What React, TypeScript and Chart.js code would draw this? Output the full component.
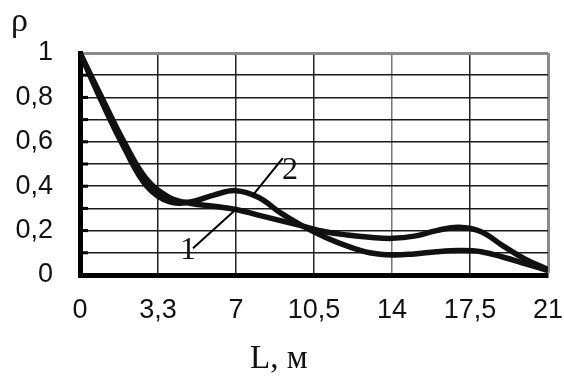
import { useEffect, useRef } from "react";
import { Chart, registerables } from "chart.js";
Chart.register(...registerables);

const xValues = [0, 1, 2, 3, 4, 5, 6, 7, 8, 9, 10, 11, 12, 13, 14, 15, 16, 17, 18, 19, 20, 21];
const curve1 = [1, 0.795, 0.595, 0.43, 0.35, 0.322, 0.31, 0.295, 0.27, 0.245, 0.22, 0.195, 0.18, 0.17, 0.165, 0.175, 0.2, 0.215, 0.195, 0.13, 0.07, 0.025];
const curve2 = [1, 0.775, 0.57, 0.4, 0.33, 0.33, 0.36, 0.38, 0.35, 0.28, 0.22, 0.17, 0.13, 0.1, 0.09, 0.095, 0.105, 0.11, 0.105, 0.08, 0.05, 0.02];

const xTickValues = [0, 3.5, 7, 10.5, 14, 17.5, 21];
const xTickLabels = ["0", "3,3", "7", "10,5", "14", "17,5", "21"];
const yTickValues = [0, 0.1, 0.2, 0.3, 0.4, 0.5, 0.6, 0.7, 0.8, 0.9, 1];
const yTickLabels = ["0", "", "0,2", "", "0,4", "", "0,6", "", "0,8", "", "1"];

const yAxisTitle = "ρ";
const xAxisTitle = "L, м";

const curveLabel1 = { text: "1", x: 4.85, y: 0.11, from: [5.07, 0.12], to: [7.04, 0.3] };
const curveLabel2 = { text: "2", x: 9.42, y: 0.47, from: [7.76, 0.36], to: [9.1, 0.527] };

const SANS = '"Liberation Sans", Arial, sans-serif';
const SERIF = '"Liberation Serif", "Times New Roman", serif';

const decorPlugin = {
  id: "decor",
  afterDatasetsDraw(chart: any) {
    const { ctx, chartArea, scales } = chart;
    const xs = scales.x;
    const ys = scales.y;
    ctx.save();
    ctx.strokeStyle = "#000";
    ctx.lineWidth = 3;
    for (const v of yTickValues) {
      if (v === 0 || v === 1) continue;
      const py = ys.getPixelForValue(v);
      ctx.beginPath();
      ctx.moveTo(chartArea.left, py);
      ctx.lineTo(chartArea.left + 8, py);
      ctx.stroke();
    }
    ctx.lineWidth = 2;
    for (const l of [curveLabel1, curveLabel2]) {
      ctx.beginPath();
      ctx.moveTo(xs.getPixelForValue(l.from[0]), ys.getPixelForValue(l.from[1]));
      ctx.lineTo(xs.getPixelForValue(l.to[0]), ys.getPixelForValue(l.to[1]));
      ctx.stroke();
    }
    ctx.fillStyle = "#111";
    ctx.font = `32px ${SERIF}`;
    ctx.textAlign = "center";
    ctx.textBaseline = "middle";
    for (const l of [curveLabel1, curveLabel2]) {
      ctx.fillText(l.text, xs.getPixelForValue(l.x), ys.getPixelForValue(l.y));
    }
    ctx.textAlign = "left";
    ctx.textBaseline = "alphabetic";
    ctx.font = `34px ${SERIF}`;
    ctx.fillText(yAxisTitle, 11, 31);
    ctx.font = `33px ${SERIF}`;
    ctx.fillText(xAxisTitle, 250, 368);
    ctx.restore();
  },
};

const zeroPad = (s: any) => {
  s.paddingLeft = 0;
  s.paddingRight = 0;
  s.paddingTop = 0;
  s.paddingBottom = 0;
};

export default function App() {
  const ref = useRef<HTMLCanvasElement | null>(null);
  useEffect(() => {
    if (!ref.current) return;
    const chart = new Chart(ref.current, {
      type: "line",
      data: {
        datasets: [
          {
            label: "1",
            data: xValues.map((x, i) => ({ x, y: curve1[i] })),
            borderColor: "#111",
            borderWidth: 5.5,
            pointRadius: 0,
            tension: 0.4,
            fill: false,
          },
          {
            label: "2",
            data: xValues.map((x, i) => ({ x, y: curve2[i] })),
            borderColor: "#111",
            borderWidth: 5.5,
            pointRadius: 0,
            tension: 0.4,
            fill: false,
          },
        ],
      },
      options: {
        animation: false,
        responsive: false,
        layout: { padding: { top: 53, right: 16, left: 0, bottom: 0 } },
        plugins: { legend: { display: false }, tooltip: { enabled: false }, title: { display: false } },
        scales: {
          x: {
            type: "linear",
            min: 0,
            max: 21,
            afterBuildTicks: (s: any) => {
              s.ticks = xTickValues.map((v) => ({ value: v }));
            },
            afterFit: (s: any) => {
              s.height = 103;
              zeroPad(s);
            },
            ticks: {
              autoSkip: false,
              maxRotation: 0,
              padding: 19,
              color: "#111",
              font: { family: SANS, size: 27 },
              callback: (_v: any, i: number) => xTickLabels[i],
            },
            grid: {
              drawTicks: false,
              color: (c: any) => (c.tick && c.tick.value === 21 ? "#8a8a8a" : c.tick && c.tick.value === 14 ? "#777" : "#222"),
              lineWidth: (c: any) => (c.tick && c.tick.value === 21 ? 3 : 1.5),
            },
            border: { display: true, color: "#000", width: 5 },
          },
          y: {
            type: "linear",
            min: 0,
            max: 1,
            afterBuildTicks: (s: any) => {
              s.ticks = yTickValues.map((v) => ({ value: v }));
            },
            afterFit: (s: any) => {
              s.width = 80;
              zeroPad(s);
            },
            ticks: {
              autoSkip: false,
              padding: 27,
              color: "#111",
              font: { family: SANS, size: 27 },
              callback: (_v: any, i: number) => yTickLabels[i],
            },
            grid: {
              drawTicks: false,
              color: (c: any) => (c.tick && c.tick.value === 1 ? "#8a8a8a" : "#1a1a1a"),
              lineWidth: (c: any) => (c.tick && c.tick.value === 1 ? 3 : 1.5),
            },
            border: { display: true, color: "#000", width: 5 },
          },
        },
      },
      plugins: [decorPlugin],
    } as any);
    return () => chart.destroy();
  }, []);
  return (
    <div style={{ position: "fixed", left: 0, top: 0, width: 564, height: 378, background: "#fff" }}>
      <canvas ref={ref} width={564} height={378} />
    </div>
  );
}
